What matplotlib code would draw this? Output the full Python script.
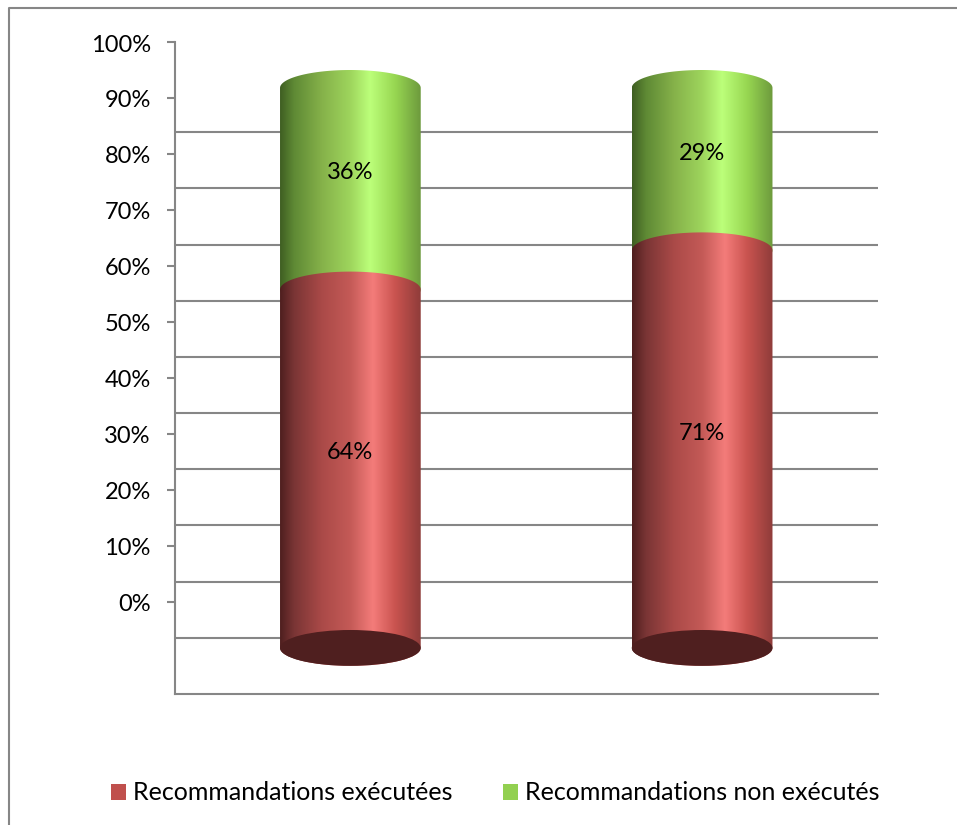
import numpy as np
import matplotlib
matplotlib.use("Agg")
import matplotlib.pyplot as plt
from matplotlib.colors import LinearSegmentedColormap
from matplotlib.lines import Line2D
from matplotlib.patches import Ellipse, Patch, Polygon
from matplotlib.transforms import ScaledTranslation

plt.rcParams['font.family'] = ['Lato', 'DejaVu Sans']

# Data
groups = [0, 1]
executed = [64, 71]
not_executed = [36, 29]
executed_labels = ["64%", "71%"]
not_executed_labels = ["36%", "29%"]
y_ticks = [0, 10, 20, 30, 40, 50, 60, 70, 80, 90, 100]
y_tick_labels = ["0%", "10%", "20%", "30%", "40%", "50%", "60%", "70%", "80%", "90%", "100%"]
legend_labels = ["Recommandations exécutées", "Recommandations non exécutés"]

# 3D look of the original chart
GRID = "#868686"
FLOOR = -16.43   # back wall is shifted down from the tick scale
WALL_STEP = 1.003
BASE = -8.2      # where the cylinders stand
BAR_W = 0.4
CAP = 3.2        # half height of the ellipses, in y units
LABEL_LIFT = 2.85

red_cmap = LinearSegmentedColormap.from_list("red3d", [
    (0.0, "#4f1f1f"), (0.1, "#7a3535"), (0.3, "#ab4a48"), (0.5, "#c45a57"),
    (0.66, "#f47c7a"), (0.82, "#c9534f"), (1.0, "#8f3c3a")])
green_cmap = LinearSegmentedColormap.from_list("green3d", [
    (0.0, "#3f5f22"), (0.1, "#5f8a35"), (0.3, "#86b24a"), (0.5, "#9ed55d"),
    (0.64, "#bcff7a"), (0.82, "#97d651"), (1.0, "#6d9a3d")])
gradient = np.linspace(0, 1, 256).reshape(1, -1)


def draw_segment(ax, x, bottom, top, cmap):
    # body of the cylinder: bulging top and bottom edges
    t = np.linspace(0, np.pi, 80)
    xs = x + BAR_W / 2 * np.cos(t)
    upper = top + CAP * np.sin(t)
    lower = bottom - CAP * np.sin(t)
    outline = np.vstack([np.column_stack([xs, upper]), np.column_stack([xs[::-1], lower[::-1]])])
    shape = Polygon(outline, closed=True, facecolor="none", edgecolor="none", transform=ax.transData)
    ax.add_patch(shape)
    im = ax.imshow(gradient, cmap=cmap, aspect="auto", zorder=3,
                   extent=[x - BAR_W / 2, x + BAR_W / 2, bottom - CAP, top + CAP])
    im.set_clip_path(shape)


fig = plt.figure(figsize=(9.57, 8.25), dpi=100)
ax = fig.add_axes([174.5 / 957, 1 - 694 / 825, 703.5 / 957, 652 / 825])

# wall gridlines, shifted from the tick scale; the last tick has no line
for g in y_ticks[1:]:
    ax.axhline(FLOOR + g * WALL_STEP, color=GRID, lw=1.5, zorder=1)

for x, low, high, low_txt, high_txt in zip(groups, executed, not_executed, executed_labels, not_executed_labels):
    split = BASE + low
    top = split + high
    draw_segment(ax, x, split, top, green_cmap)
    draw_segment(ax, x, BASE, split, red_cmap)
    ax.add_patch(Ellipse((x, BASE), BAR_W, 2 * CAP, facecolor="#4f1f1f", edgecolor="none", zorder=4))
    ax.text(x, BASE + low / 2 + LABEL_LIFT, low_txt, ha="center", va="center", fontsize=17, color="black", zorder=5)
    ax.text(x, split + high / 2 + LABEL_LIFT, high_txt, ha="center", va="center", fontsize=17, color="black", zorder=5)

ax.set_xlim(-0.5, 1.5)
ax.set_ylim(FLOOR, 100)
ax.set_xticks([])
ax.set_yticks(y_ticks)
ax.set_yticklabels(y_tick_labels, fontsize=17)
ax.tick_params(axis="y", length=6, width=1.5, color=GRID, pad=11)
nudge = ScaledTranslation(0, -1 / 100, fig.dpi_scale_trans)
for lab in ax.get_yticklabels():
    lab.set_transform(lab.get_transform() + nudge)
for side in ["top", "right"]:
    ax.spines[side].set_visible(False)
for side in ["left", "bottom"]:
    ax.spines[side].set_color(GRID)
    ax.spines[side].set_linewidth(1.5)

# outer chart frame, cut off by the image edge
fig.add_artist(Line2D([9 / 957, 9 / 957, 1], [0, 1 - 8 / 825, 1 - 8 / 825], color=GRID, lw=1.5))

handles = [Patch(facecolor="#c0504d"), Patch(facecolor="#92d050")]
fig.legend(handles, legend_labels, ncol=2, frameon=False, fontsize=18,
           loc="center left", bbox_to_anchor=(88 / 957, 1 - 793 / 825),
           handlelength=0.62, handleheight=0.62, handletextpad=0.28, columnspacing=2.0)

fig.savefig("out.png", dpi=100)
